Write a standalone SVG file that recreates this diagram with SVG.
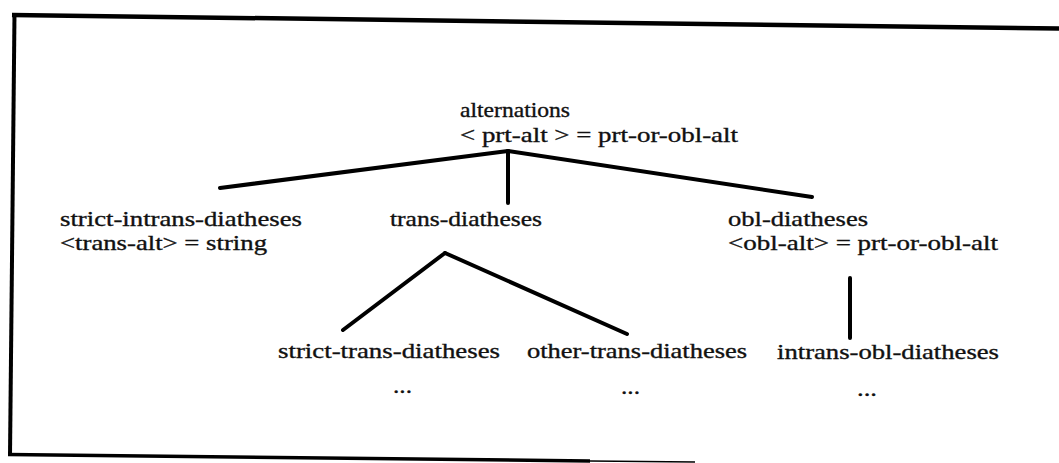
<svg xmlns="http://www.w3.org/2000/svg" width="1059" height="463" viewBox="0 0 1059 463">
<style>
text{font-family:"Liberation Serif","Times New Roman",serif;font-size:21.5px;fill:#111;stroke:#111;stroke-width:0.35}
.e{stroke:#000;stroke-width:4;stroke-linecap:round;fill:none}
.f{stroke:#000;fill:none}
</style>
<rect width="1059" height="463" fill="#fff"/>
<g id="frame">
<line class="f" x1="12" y1="15" x2="1059" y2="28.5" stroke-width="4.5"/>
<line class="f" x1="14.5" y1="13" x2="10" y2="456" stroke-width="4"/>
<line class="f" x1="8" y1="454.5" x2="590" y2="461" stroke-width="3.5"/>
<line class="f" x1="590" y1="461" x2="695" y2="462" stroke-width="1.5"/>
</g>
<g id="connectors">
<line class="e" x1="508" y1="151" x2="220" y2="188"/>
<line class="e" x1="508" y1="151" x2="812" y2="197"/>
<line class="e" x1="508" y1="151" x2="508" y2="203" stroke-width="3"/>
<line class="e" x1="445" y1="253" x2="343" y2="330"/>
<line class="e" x1="445" y1="253" x2="627" y2="334"/>
<line class="e" x1="850" y1="278" x2="850" y2="338" stroke-width="3"/>
</g>
<g id="alternations">
<text x="460" y="117" textLength="110" lengthAdjust="spacingAndGlyphs">alternations</text>
<text x="460" y="142" textLength="278" lengthAdjust="spacingAndGlyphs">&lt; prt-alt &gt; = prt-or-obl-alt</text>
</g>
<g id="strict-intrans-diatheses">
<text x="60" y="226" textLength="242" lengthAdjust="spacingAndGlyphs">strict-intrans-diatheses</text>
<text x="60" y="250" textLength="207" lengthAdjust="spacingAndGlyphs">&lt;trans-alt&gt; = string</text>
</g>
<g id="trans-diatheses">
<text x="390" y="226" textLength="152" lengthAdjust="spacingAndGlyphs">trans-diatheses</text>
</g>
<g id="obl-diatheses">
<text x="728" y="226" textLength="140" lengthAdjust="spacingAndGlyphs">obl-diatheses</text>
<text x="728" y="250" textLength="270" lengthAdjust="spacingAndGlyphs">&lt;obl-alt&gt; = prt-or-obl-alt</text>
</g>
<g id="strict-trans-diatheses">
<text x="278" y="358" textLength="222" lengthAdjust="spacingAndGlyphs">strict-trans-diatheses</text>
<text x="393" y="393" textLength="19" lengthAdjust="spacingAndGlyphs">...</text>
</g>
<g id="other-trans-diatheses">
<text x="527" y="358" textLength="220" lengthAdjust="spacingAndGlyphs">other-trans-diatheses</text>
<text x="621" y="394" textLength="19" lengthAdjust="spacingAndGlyphs">...</text>
</g>
<g id="intrans-obl-diatheses">
<text x="777" y="359" textLength="222" lengthAdjust="spacingAndGlyphs">intrans-obl-diatheses</text>
<text x="857" y="396" textLength="20" lengthAdjust="spacingAndGlyphs">...</text>
</g>
</svg>
